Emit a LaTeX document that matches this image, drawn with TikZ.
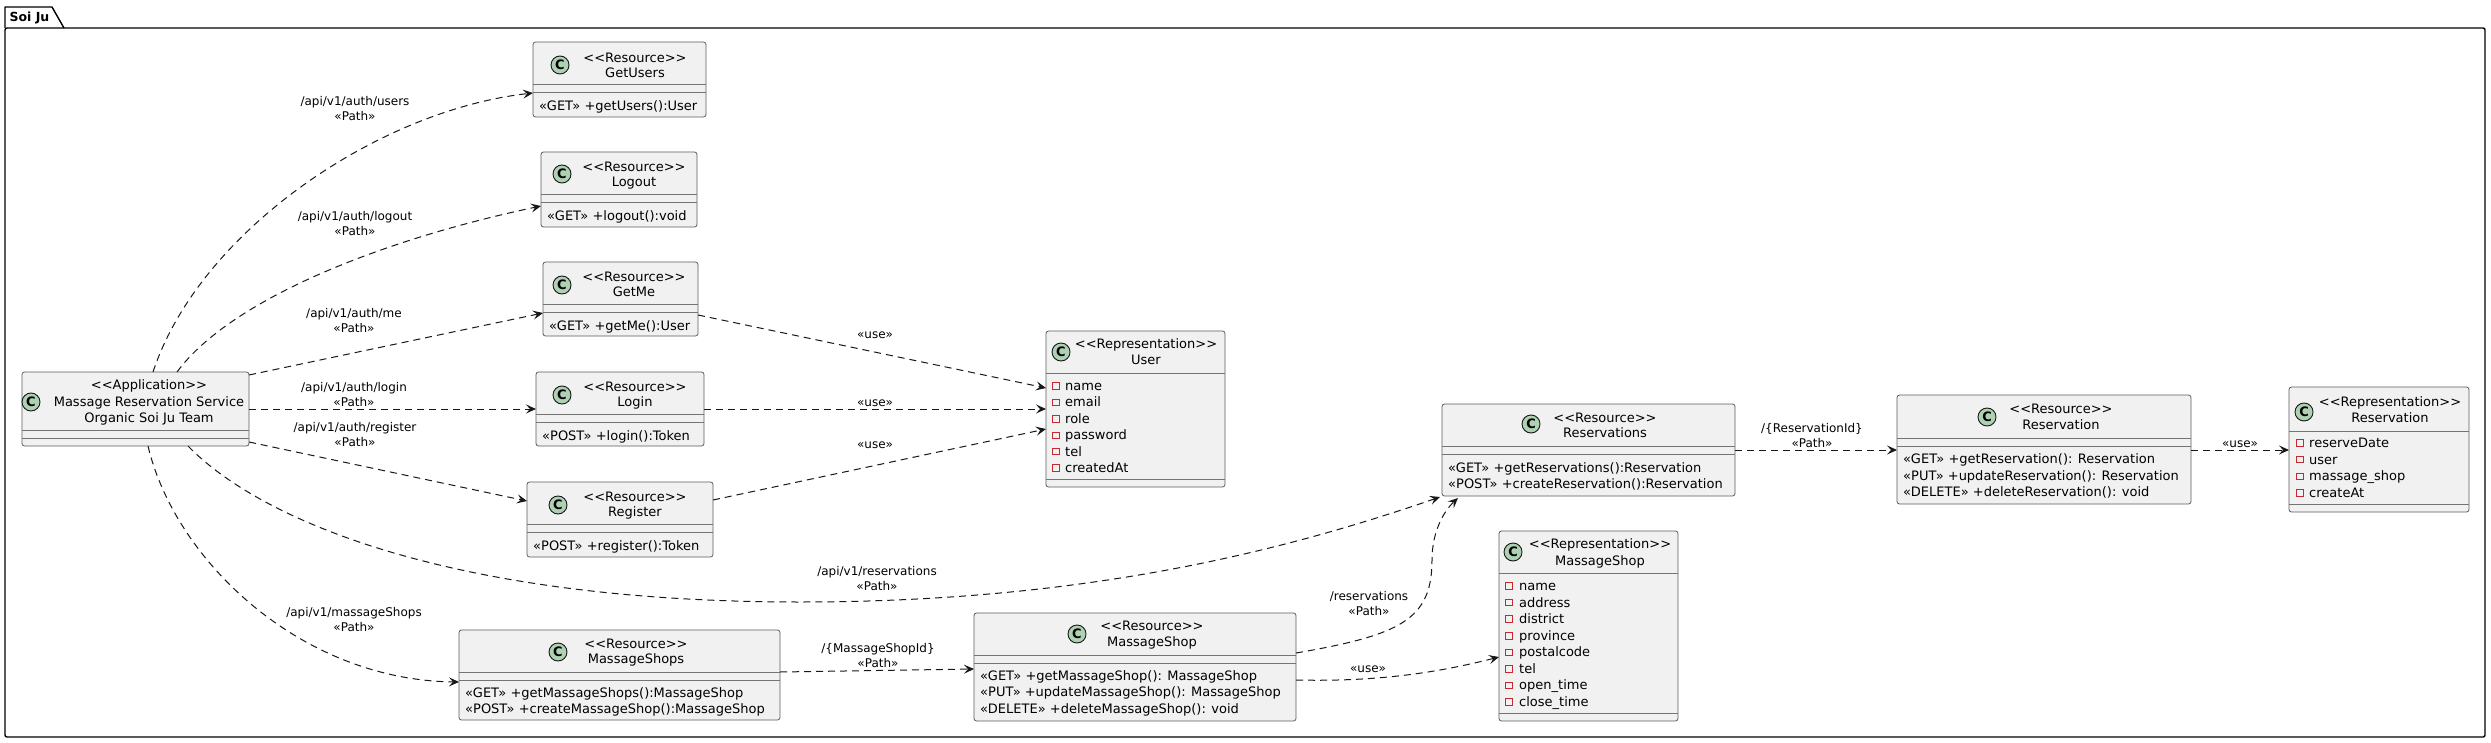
\documentclass[tikz,border=0pt]{standalone}
\usepackage{fontspec}
\setmainfont{DejaVu Sans}
\usetikzlibrary{arrows.meta}
\definecolor{boxfill}{HTML}{F1F1F1}
\definecolor{boxline}{HTML}{181818}
\definecolor{circfill}{HTML}{ADD1B2}
\definecolor{attrred}{HTML}{C82930}
\definecolor{edgecol}{HTML}{181818}
\tikzset{
 umlbox/.style={draw=boxline!70, fill=boxfill, rounded corners=2.5pt, line width=0.8pt, inner sep=0pt, outer sep=0pt, anchor=north west},
 sepline/.style={draw=boxline!60, line width=0.8pt},
 circC/.style={circle, draw=boxline, fill=circfill, line width=0.9pt, minimum size=18pt, inner sep=0pt, font=\fontsize{13}{13}\selectfont\bfseries},
 hdr/.style={anchor=base, inner sep=0pt, font=\fontsize{13}{15}\selectfont},
 mtd/.style={anchor=base west, inner sep=0pt, font=\fontsize{13}{15}\selectfont},
 elab/.style={anchor=base, inner sep=0pt, font=\fontsize{12}{14}\selectfont},
 attrmark/.style={draw=attrred, line width=0.8pt, minimum size=6.5pt, inner sep=0pt},
 dep/.style={draw=edgecol, line width=1pt, dash pattern=on 7pt off 5pt, -{Stealth[length=10pt,width=9pt,inset=4pt]}},
 frameline/.style={draw=black, line width=1.4pt},
}
\newcommand\clsbox[5]{\node[umlbox, minimum width={#4-#2}, minimum height={#5-#3}] (#1) at (#2,#3) {};}
\newcommand\sepat[3]{\draw[sepline] (#1,#3) -- (#2,#3);}
\newcommand\hdrline[4]{\node[hdr] (#1) at (#2,{#3+4.5}) {#4};}
\newcommand\mtdline[4]{\node[mtd] (#1) at (#2,{#3+4.5}) {#4};}
\newcommand\lblline[4]{\node[elab] (#1) at (#2,{#3+4.2}) {#4};}
\begin{document}
\begin{tikzpicture}[x=1pt,y=-1pt]
\useasboundingbox (0,0) rectangle (2491,743);
\fill[white] (0,0) rectangle (2491,743);
% package frame
\draw[frameline, rounded corners=2pt] (5,28) rectangle (2485,737);
\draw[frameline, line join=round] (5,28) -- (5,7) -- (52,7) -- (64,28);
\node[anchor=base, inner sep=0pt, font=\fontsize{12.5}{15}\selectfont\bfseries] (pkg) at (29.5,21.5) {Soi Ju};

% ---------- Application
\clsbox{app}{22}{372}{249}{446}
\sepat{22}{249}{430}\sepat{22}{249}{438}
\node[circC] (appc) at (31,402) {C};
\hdrline{apph1}{149}{385}{<{}<Application>{}>}
\hdrline{apph2}{149}{402}{Massage Reservation Service}
\hdrline{apph3}{149}{418}{Organic Soi Ju Team}

% ---------- GetUsers
\clsbox{getusers}{533}{42}{706}{117}
\sepat{533}{706}{84}\sepat{533}{706}{92}
\node[circC] (guc) at (560,65) {C};
\hdrline{guh1}{635}{58}{<{}<Resource>{}>}
\hdrline{guh2}{635}{73}{GetUsers}
\mtdline{gum1}{539}{106}{«GET» +getUsers():User}

% ---------- Logout
\clsbox{logout}{541}{152}{697}{227}
\sepat{541}{697}{194}\sepat{541}{697}{202}
\node[circC] (loc) at (562,174) {C};
\hdrline{loh1}{634}{167}{<{}<Resource>{}>}
\hdrline{loh2}{634}{182}{Logout}
\mtdline{lom1}{547}{216}{«GET» +logout():void}

% ---------- GetMe
\clsbox{getme}{543}{262}{698}{336}
\sepat{543}{698}{304}\sepat{543}{698}{312}
\node[circC] (gmc) at (562,285) {C};
\hdrline{gmh1}{634}{277}{<{}<Resource>{}>}
\hdrline{gmh2}{634}{292}{GetMe}
\mtdline{gmm1}{549}{326}{«GET» +getMe():User}

% ---------- Login
\clsbox{login}{536}{372}{704}{446}
\sepat{536}{704}{414}\sepat{536}{704}{422}
\node[circC] (lic) at (562,395) {C};
\hdrline{lih1}{635}{387}{<{}<Resource>{}>}
\hdrline{lih2}{635}{402}{Login}
\mtdline{lim1}{542}{436}{«POST» +login():Token}

% ---------- Register
\clsbox{register}{527}{482}{713}{557}
\sepat{527}{713}{524}\sepat{527}{713}{532}
\node[circC] (rgc) at (558,505) {C};
\hdrline{rgh1}{635}{497}{<{}<Resource>{}>}
\hdrline{rgh2}{635}{512}{Register}
\mtdline{rgm1}{533}{546}{«POST» +register():Token}

% ---------- MassageShops
\clsbox{mshops}{459}{630}{780}{720}
\sepat{459}{780}{672}\sepat{459}{780}{680}
\node[circC] (msc) at (558,652) {C};
\hdrline{msh1}{636}{644}{<{}<Resource>{}>}
\hdrline{msh2}{636}{659}{MassageShops}
\mtdline{msm1}{465}{693}{«GET» +getMassageShops():MassageShop}
\mtdline{msm2}{465}{709}{«POST» +createMassageShop():MassageShop}

% ---------- MassageShop (resource)
\clsbox{mshop}{974}{613}{1296}{721}
\sepat{974}{1296}{655}\sepat{974}{1296}{663}
\node[circC] (m1c) at (1077,634) {C};
\hdrline{m1h1}{1152}{626}{<{}<Resource>{}>}
\hdrline{m1h2}{1152}{642}{MassageShop}
\mtdline{m1m1}{980}{676}{«GET» +getMassageShop(): MassageShop}
\mtdline{m1m2}{980}{692}{«PUT» +updateMassageShop(): MassageShop}
\mtdline{m1m3}{980}{709}{«DELETE» +deleteMassageShop(): void}

% ---------- Reservations
\clsbox{reservations}{1442}{404}{1735}{496}
\sepat{1442}{1735}{446}\sepat{1442}{1735}{454}
\node[circC] (rsc) at (1531,424) {C};
\hdrline{rsh1}{1605}{418}{<{}<Resource>{}>}
\hdrline{rsh2}{1605}{433}{Reservations}
\mtdline{rsm1}{1448}{468}{«GET» +getReservations():Reservation}
\mtdline{rsm2}{1448}{484}{«POST» +createReservation():Reservation}

% ---------- Reservation (resource)
\clsbox{reservation}{1897}{395}{2191}{504}
\sepat{1897}{2191}{438}\sepat{1897}{2191}{446}
\node[circC] (r1c) at (1987,417) {C};
\hdrline{r1h1}{2061}{409}{<{}<Resource>{}>}
\hdrline{r1h2}{2061}{425}{Reservation}
\mtdline{r1m1}{1903}{459}{«GET» +getReservation(): Reservation}
\mtdline{r1m2}{1903}{476}{«PUT» +updateReservation(): Reservation}
\mtdline{r1m3}{1903}{492}{«DELETE» +deleteReservation(): void}

% ---------- User (representation)
\clsbox{user}{1046}{331}{1225}{487}
\sepat{1046}{1225}{373}\sepat{1046}{1225}{479}
\node[circC] (usc) at (1061,352) {C};
\hdrline{ush1}{1146}{344}{<{}<Representation>{}>}
\hdrline{ush2}{1146}{360}{User}
\foreach \t [count=\i from 0] in {name,email,role,password,tel,createdAt}{
  \node[attrmark] (usm\i) at (1056,{386+16.4*\i}) {};
  \node[mtd] (ust\i) at (1065,{386+16.4*\i+4.5}) {\t};
}

% ---------- MassageShop (representation)
\clsbox{mshoprep}{1499}{531}{1678}{721}
\sepat{1499}{1678}{573}\sepat{1499}{1678}{713}
\node[circC] (mrc) at (1513,552) {C};
\hdrline{mrh1}{1600}{544}{<{}<Representation>{}>}
\hdrline{mrh2}{1600}{561}{MassageShop}
\foreach \t [count=\i from 0] in {name,address,district,province,postalcode,tel,open\_time,close\_time}{
  \node[attrmark] (mrm\i) at (1509,{586+16.57*\i}) {};
  \node[mtd] (mrt\i) at (1519,{586+16.57*\i+4.5}) {\t};
}

% ---------- Reservation (representation)
\clsbox{resrep}{2289}{387}{2469}{512}
\sepat{2289}{2469}{431}\sepat{2289}{2469}{504}
\node[circC] (rrc) at (2304,412) {C};
\hdrline{rrh1}{2390}{402}{<{}<Representation>{}>}
\hdrline{rrh2}{2390}{418}{Reservation}
\foreach \t [count=\i from 0] in {reserveDate,user,massage\_shop,createAt}{
  \node[attrmark] (rrm\i) at (2300,{443+16.6*\i}) {};
  \node[mtd] (rrt\i) at (2309,{443+16.6*\i+4.5}) {\t};
}

% ---------- connectors
\draw[dep] ([shift={(131,0)}]app.north west) .. controls (200,230) and (380,110) .. ([shift={(0,51)}]getusers.north west);
\draw[dep] ([shift={(155,0)}]app.north west) .. controls (230,300) and (380,240) .. ([shift={(0,54)}]logout.north west);
\draw[dep] ([shift={(227,3)}]app.north west) -- ([shift={(0,51)}]getme.north west);
\draw[dep] ([shift={(227,37)}]app.north west) -- ([shift={(0,37)}]login.north west);
\draw[dep] ([shift={(227,70)}]app.north west) -- ([shift={(0,19)}]register.north west);
\draw[dep] ([shift={(166,74)}]app.north west) .. controls (260,520) and (450,602) .. (800,602) .. controls (1100,602) and (1300,545) .. ([shift={(-2,93)}]reservations.north west);
\draw[dep] ([shift={(126,74)}]app.north west) .. controls (175,560) and (300,680) .. ([shift={(0,52)}]mshops.north west);
\draw[dep] ([shift={(155,53)}]getme.north west) -- ([shift={(0,57)}]user.north west);
\draw[dep] ([shift={(168,37)}]login.north west) -- ([shift={(0,78)}]user.north west);
\draw[dep] ([shift={(186,18)}]register.north west) -- ([shift={(0,98)}]user.north west);
\draw[dep] ([shift={(321,42)}]mshops.north west) -- ([shift={(0,56)}]mshop.north west);
\draw[dep] ([shift={(322,40)}]mshop.north west) .. controls (1400,635) and (1432,620) .. (1432,560) .. controls (1432,530) and (1445,510) .. ([shift={(16,94)}]reservations.north west);
\draw[dep] ([shift={(322,67)}]mshop.north west) .. controls (1380,682) and (1440,672) .. ([shift={(0,126)}]mshoprep.north west);
\draw[dep] ([shift={(293,46)}]reservations.north west) -- ([shift={(0,55)}]reservation.north west);
\draw[dep] ([shift={(294,55)}]reservation.north west) -- ([shift={(0,63)}]resrep.north west);

% ---------- connector labels
\lblline{l1a}{355}{101}{/api/v1/auth/users}\lblline{l1b}{355}{116}{«Path»}
\lblline{l2a}{355}{216}{/api/v1/auth/logout}\lblline{l2b}{355}{231}{«Path»}
\lblline{l3a}{354}{313}{/api/v1/auth/me}\lblline{l3b}{354}{328}{«Path»}
\lblline{l4a}{354}{387}{/api/v1/auth/login}\lblline{l4b}{354}{402}{«Path»}
\lblline{l5a}{355}{427}{/api/v1/auth/register}\lblline{l5b}{355}{442}{«Path»}
\lblline{l6a}{877}{571}{/api/v1/reservations}\lblline{l6b}{877}{586}{«Path»}
\lblline{l7a}{354}{612}{/api/v1/massageShops}\lblline{l7b}{354}{627}{«Path»}
\lblline{l8a}{878}{648}{/\{MassageShopId\}}\lblline{l8b}{878}{663}{«Path»}
\lblline{l9a}{1369}{596}{/reservations}\lblline{l9b}{1369}{611}{«Path»}
\lblline{l10a}{1812}{428}{/\{ReservationId\}}\lblline{l10b}{1812}{443}{«Path»}
\lblline{u1}{875}{334}{«use»}
\lblline{u2}{875}{402}{«use»}
\lblline{u3}{875}{444}{«use»}
\lblline{u4}{1368}{668}{«use»}
\lblline{u5}{2240}{443}{«use»}
\end{tikzpicture}
\end{document}
